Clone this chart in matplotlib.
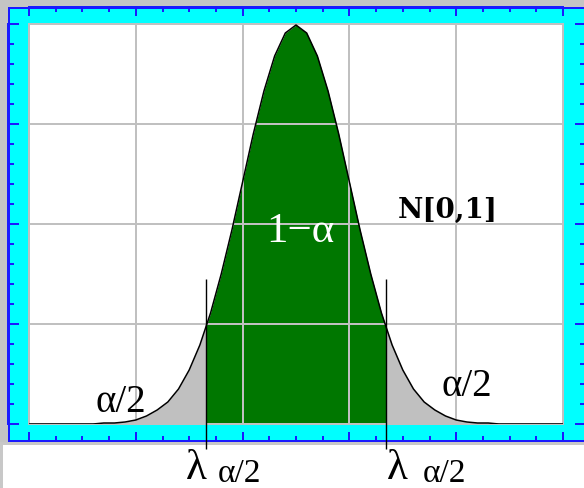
import numpy as np
import matplotlib
matplotlib.use("Agg")
import matplotlib.pyplot as plt
from matplotlib.patches import Rectangle

# ---------------- data ----------------
x_samples = np.linspace(-5.0, 5.0, 51)          # sample positions, step 0.2
density = [0.000, 0.000, 0.000, 0.000, 0.000, 0.000, 0.000, 0.001, 0.001, 0.002,
           0.004, 0.008, 0.014, 0.022, 0.035, 0.054, 0.079, 0.111, 0.150, 0.194,
           0.242, 0.290, 0.333, 0.368, 0.391,
           0.399,
           0.391, 0.368, 0.333, 0.290, 0.242, 0.194, 0.150, 0.111, 0.079, 0.054,
           0.035, 0.022, 0.014, 0.008, 0.004, 0.002, 0.001, 0.001, 0.000, 0.000,
           0.000, 0.000, 0.000, 0.000, 0.000]
lambda_crit = 1.69
x_major = [-5, -3, -1, 1, 3, 5]
y_major = [0.0, 0.1, 0.2, 0.3, 0.4]
dist_label = "N[0,1]"
center_label = "1\u2212\u03b1"
tail_label = "\u03b1/2"
lambda_label = "\u03bb"

# ---------------- styling ----------------
W, H = 584, 488
GREEN = "#007700"
GREY_TAIL = "#c0c0c0"
GRID = "#c0c0c0"
CYAN = "#00ffff"
BLUE = "#1a1aff"
FRAME_GREY = "#c4c4c4"
SERIF = ["Liberation Serif", "DejaVu Serif"]


def fx(px):
    return px / W


def fy(py):
    return 1 - py / H


fig = plt.figure(figsize=(W / 100, H / 100), dpi=100)
fig.patch.set_facecolor("white")

# outer window frame (grey)
fig.add_artist(Rectangle((0, fy(7)), 1, 7 / H, transform=fig.transFigure,
                         facecolor=FRAME_GREY, edgecolor="none", zorder=-3))
fig.add_artist(Rectangle((0, fy(443)), fx(8), 436 / H, transform=fig.transFigure,
                         facecolor=FRAME_GREY, edgecolor="none", zorder=-3))
fig.add_artist(Rectangle((0, fy(445)), 1, 3 / H, transform=fig.transFigure,
                         facecolor="#c8c8c8", edgecolor="none", zorder=-3))
fig.add_artist(Rectangle((0, 0), fx(3), fy(445), transform=fig.transFigure,
                         facecolor="#c8c8c8", edgecolor="none", zorder=-3))

# cyan band with blue outline
fig.add_artist(Rectangle((fx(8.5), fy(441)), fx(600) - fx(8.5), (441 - 7.5) / H,
                         transform=fig.transFigure, facecolor=CYAN,
                         edgecolor=BLUE, linewidth=1.44, zorder=-2))

ax = fig.add_axes([fx(29), fy(424), (563 - 29) / W, (424 - 24) / H])
ax.set_facecolor("white")
ax.set_xlim(-5, 5)
ax.set_ylim(0, 0.4)

# spines moved out onto the blue outline, ticks pointing inward
for side, off in (("left", 14.8), ("top", 11.9), ("bottom", 12.2), ("right", 16.2)):
    ax.spines[side].set_position(("outward", off))
    ax.spines[side].set_color(BLUE)
    ax.spines[side].set_linewidth(1.44)
ax.spines["right"].set_visible(False)

ax.set_xticks(x_major)
ax.set_xticks(np.arange(-5, 5.01, 0.5), minor=True)
ax.set_yticks(y_major)
ax.set_yticks(np.arange(0, 0.401, 0.02), minor=True)
ax.tick_params(axis="both", which="both", direction="in", colors=BLUE,
               top=True, right=True, bottom=True, left=True,
               labelbottom=False, labelleft=False, labeltop=False, labelright=False)
ax.tick_params(axis="x", which="major", length=6.5, width=1.44)
ax.tick_params(axis="x", which="minor", length=3.6, width=1.44)
ax.tick_params(axis="y", which="major", length=8.0, width=1.44)
ax.tick_params(axis="y", which="minor", length=4.0, width=1.44)

ax.grid(True, which="major", color=GRID, linewidth=1.44)
ax.set_axisbelow("line")
for gl in ax.get_xgridlines() + ax.get_ygridlines():
    gl.set_clip_on(False)

# curve and shaded areas
xs = np.array(x_samples)
ys = np.array(density)
y_lam = np.interp(lambda_crit, xs, ys)
inner = np.abs(xs) < lambda_crit
xi = np.concatenate([[-lambda_crit], xs[inner], [lambda_crit]])
yi = np.concatenate([[y_lam], ys[inner], [y_lam]])
left = xs < -lambda_crit
right = xs > lambda_crit
xl = np.concatenate([xs[left], [-lambda_crit]])
yl = np.concatenate([ys[left], [y_lam]])
xr = np.concatenate([[lambda_crit], xs[right]])
yr = np.concatenate([[y_lam], ys[right]])

ax.fill_between(xi, 0, yi, color=GREEN, linewidth=0, zorder=1)
ax.fill_between(xl, 0, yl, color=GREY_TAIL, linewidth=0, zorder=1)
ax.fill_between(xr, 0, yr, color=GREY_TAIL, linewidth=0, zorder=1)
ax.plot(xs, ys, color="black", linewidth=1.1, zorder=3)

ax.vlines([-lambda_crit, lambda_crit], -0.025, 0.145, color="black",
          linewidth=1.0, clip_on=False, zorder=4)

# labels
ax.text(2.85, 0.214, dist_label, ha="center", va="center", fontsize=20,
        fontweight="bold", family=["DejaVu Serif"], color="black")
ax.text(0.09, 0.192, center_label, ha="center", va="center", fontsize=31,
        family=SERIF, color="white", zorder=5)
ax.text(-3.28, 0.022, tail_label, ha="center", va="center", fontsize=28,
        family=SERIF, color="black", zorder=5)
ax.text(3.2, 0.037, tail_label, ha="center", va="center", fontsize=28,
        family=SERIF, color="black", zorder=5)
for lx, sx in ((-1.87, -1.05), (1.89, 2.79)):
    ax.text(lx, -0.045, lambda_label, ha="center", va="center", fontsize=31,
            family=SERIF, color="black", clip_on=False)
    ax.text(sx, -0.0575, tail_label, ha="center", va="baseline", fontsize=24,
            family=SERIF, color="black", clip_on=False)

fig.savefig("out.png", dpi=100)
